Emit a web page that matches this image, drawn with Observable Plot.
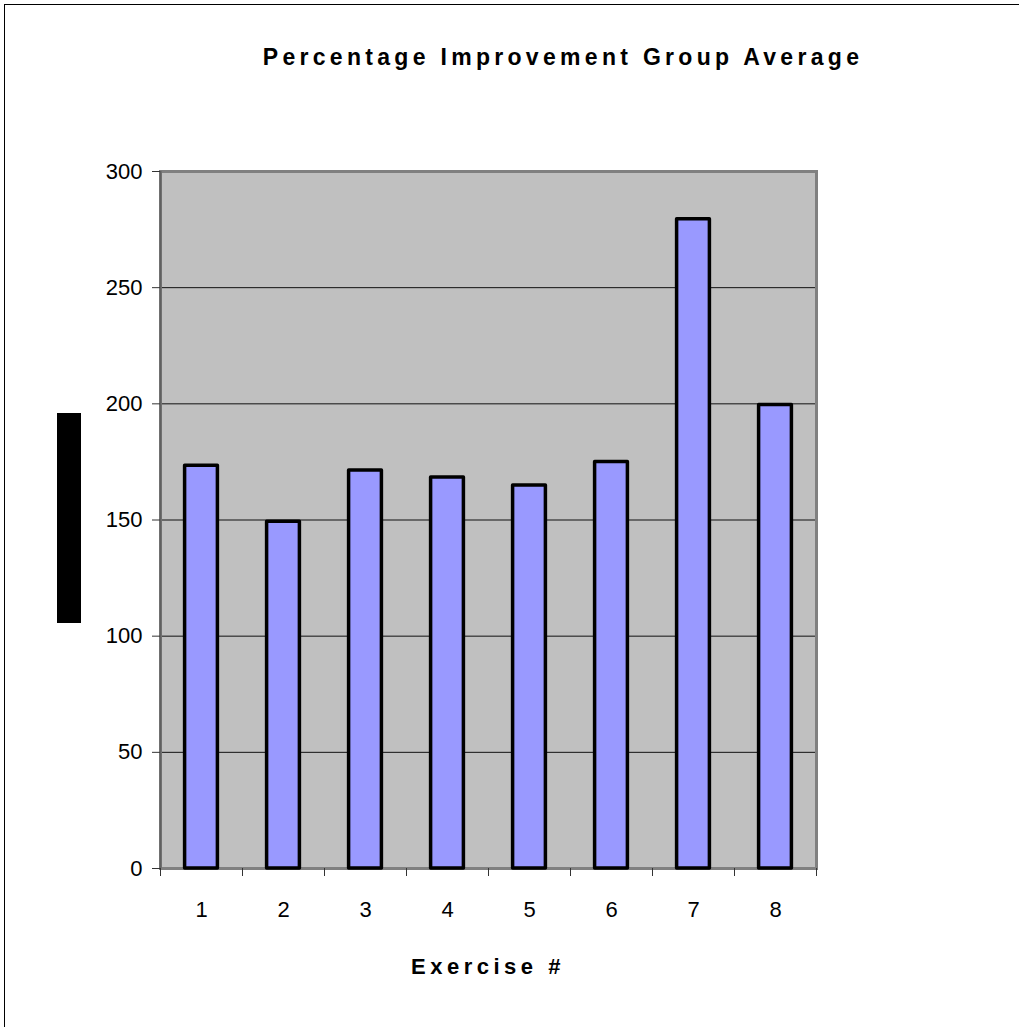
<!DOCTYPE html>
<html><head><meta charset="utf-8">
<script src="https://cdn.jsdelivr.net/npm/d3@7"></script>
<script src="https://cdn.jsdelivr.net/npm/@observablehq/plot@0.6"></script>
<style>
body{margin:0;background:#fff;font-family:"Liberation Sans",Arial,sans-serif;}
#wrap{position:relative;width:1019px;height:1027px;overflow:hidden;}
#frame{position:absolute;left:4px;top:4px;width:1100px;height:1100px;border-left:1.5px solid #000;border-top:1.5px solid #000;}
#chart{position:absolute;left:0;top:0;}
#title{position:absolute;top:44px;left:563px;transform:translateX(-50%);white-space:nowrap;font-weight:bold;font-size:23px;letter-spacing:4.3px;color:#000;}
#xlabel{position:absolute;top:954px;left:488px;transform:translateX(-50%);white-space:nowrap;font-weight:bold;font-size:22px;letter-spacing:4.5px;color:#000;}
#ybox{position:absolute;left:57px;top:413px;width:24px;height:210px;background:#000;}
</style>
</head><body>
<div id="wrap">
  <div id="frame"></div>
  <div id="chart"></div>
  <div id="title">Percentage Improvement Group Average</div>
  <div id="xlabel">Exercise #</div>
  <div id="ybox"></div>
</div>
<script>
const exercises = [1, 2, 3, 4, 5, 6, 7, 8];
const improvement = [173.3, 149.2, 171.3, 168.3, 164.9, 175.0, 279.4, 199.5];
const yTicks = [0, 50, 100, 150, 200, 250, 300];
const gridValues = [50, 100, 150, 200, 250];
const categoryEdges = [0.5, 1.5, 2.5, 3.5, 4.5, 5.5, 6.5, 7.5, 8.5];
const barHalfWidth = 0.2;

const data = exercises.map((e, i) => ({exercise: e, value: improvement[i]}));

const plot = Plot.plot({
  width: 1019,
  height: 1027,
  marginLeft: 160,
  marginRight: 203,
  marginTop: 171,
  marginBottom: 159,
  x: {type: "linear", domain: [0.5, 8.5]},
  y: {domain: [0, 300]},
  style: {background: "transparent", fontFamily: "'Liberation Sans', Arial, sans-serif", fontSize: "22px", color: "#000", overflow: "visible"},
  marks: [
    Plot.frame({fill: "#C0C0C0", stroke: null}),
    Plot.ruleY(gridValues, {y: d => d, stroke: "#111", strokeWidth: 1}),
    Plot.frame({stroke: "#808080", strokeWidth: 3, fill: "none"}),
    Plot.ruleX([0.5], {x: d => d, stroke: "#606060", strokeWidth: 2}),
    Plot.axisY({ticks: yTicks, tickSize: 8, tickPadding: 10, fontSize: 22, stroke: "#333", label: null}),
    Plot.axisX({ticks: categoryEdges, tickSize: 8, tickFormat: () => "", stroke: "#333", label: null}),
    Plot.axisX({ticks: exercises, tickSize: 0, tickPadding: 33, fontSize: 22, label: null}),
    Plot.rectY(data, {x1: d => d.exercise - barHalfWidth, x2: d => d.exercise + barHalfWidth, y1: 0, y2: "value", fill: "#9999FF", stroke: "#000", strokeWidth: 3.5, strokeLinejoin: "round"})
  ]
});
document.getElementById("chart").appendChild(plot);
</script>
</body></html>
